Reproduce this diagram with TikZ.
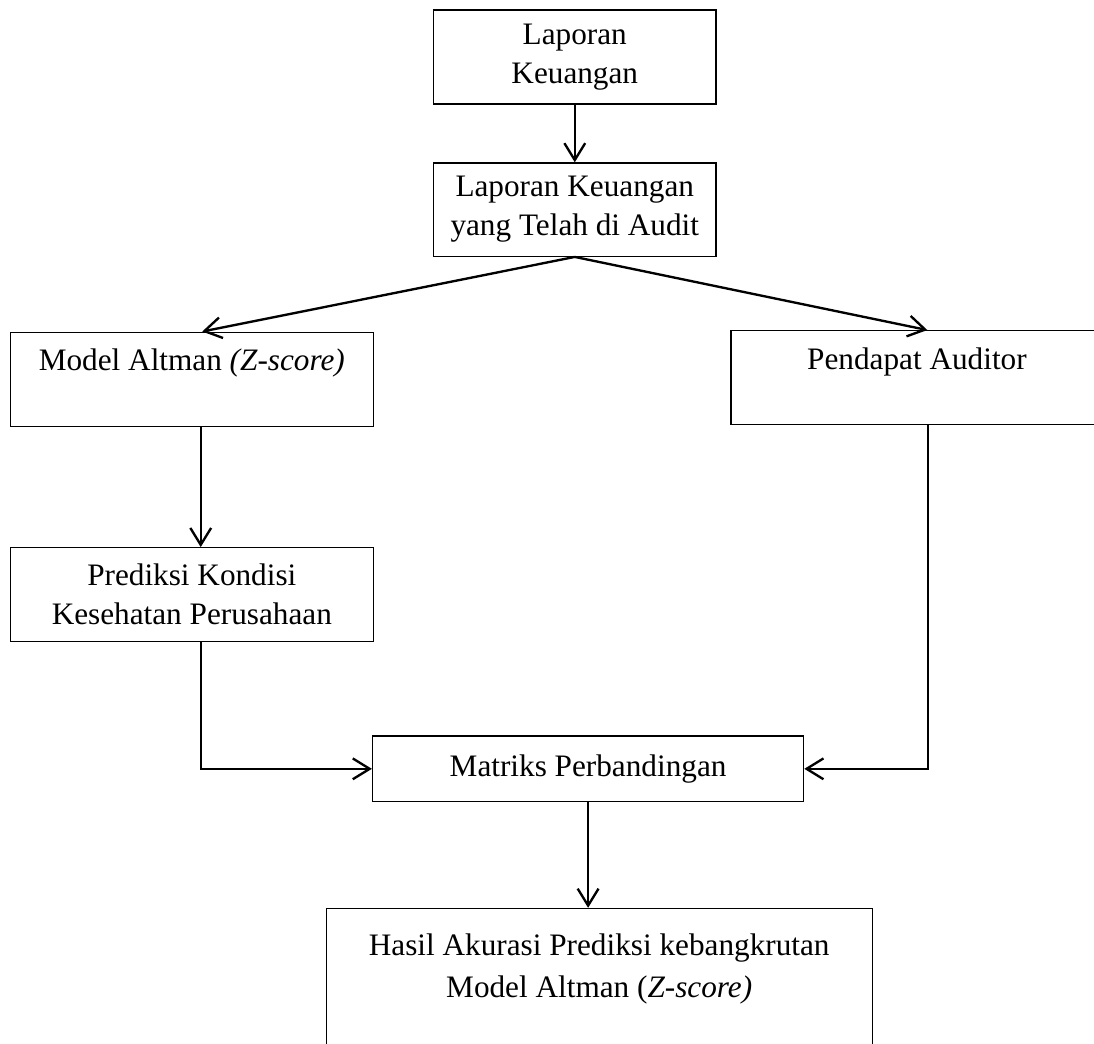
\documentclass[tikz,border=0pt]{standalone}
\usepackage{fontspec}
\setmainfont{Liberation Serif}
\usetikzlibrary{arrows.meta, positioning, calc}
\tikzset{
  >={Straight Barb[length=6.5pt, width=8pt]},
  fbox/.style={draw, line width=0.5pt, align=center, inner sep=2pt,
    font=\fontsize{12}{15}\selectfont},
  flow/.style={->, line width=0.9pt},
}

\begin{document}
\begin{tikzpicture}
  \useasboundingbox (0,0) rectangle (14.77,-14.09);

  % ---- Nodes -------------------------------------------------------------
  \node[fbox, minimum width=3.81cm, minimum height=1.27cm] (lap)    at (7.76,-0.77)
    {Laporan\\Keuangan};
  \node[fbox, minimum width=3.81cm, minimum height=1.26cm] (audit)  at (7.76,-2.83)
    {Laporan Keuangan\\yang Telah di Audit};

  \node[fbox, minimum width=4.90cm, minimum height=1.27cm] (altman) at (2.59,-5.12)
    {Model Altman \textit{(Z-score)}\\ \mbox{}};
  \node[fbox, minimum width=5.02cm, minimum height=1.27cm] (opini)  at (12.38,-5.10)
    {Pendapat Auditor\\ \mbox{}};

  \node[fbox, minimum width=4.90cm, minimum height=1.27cm] (pred)   at (2.59,-8.03)
    {Prediksi Kondisi\\Kesehatan Perusahaan};

  \node[fbox, minimum width=5.82cm, minimum height=0.89cm] (matriks) at (7.94,-10.38)
    {Matriks Perbandingan};

  \node[fbox, font=\fontsize{12}{16.1}\selectfont,
        minimum width=7.37cm, minimum height=2.11cm] (hasil) at (8.09,-13.32)
    {Hasil Akurasi Prediksi kebangkrutan\\Model Altman (\textit{Z-score)}\\ \mbox{}};

  % ---- Edges -------------------------------------------------------------
  \draw[flow] (lap) -- (audit);

  % audited report splits into the two assessments
  \draw[flow] (audit.south) -- ($(altman.north)+(0.14,0)$);
  \draw[flow] (audit.south) -- ($(opini.north)+(0.14,0)$);

  \draw[flow] ($(altman.south)+(0.12,0)$) -- ($(pred.north)+(0.12,0)$);

  % both results meet in the comparison matrix
  \draw[flow] ($(pred.south)+(0.12,0)$) |- (matriks.west);
  \draw[flow] ($(opini.south)+(0.15,0)$) |- (matriks.east);

  \draw[flow] (matriks.south) -- (matriks.south |- hasil.north);

\end{tikzpicture}
\end{document}
